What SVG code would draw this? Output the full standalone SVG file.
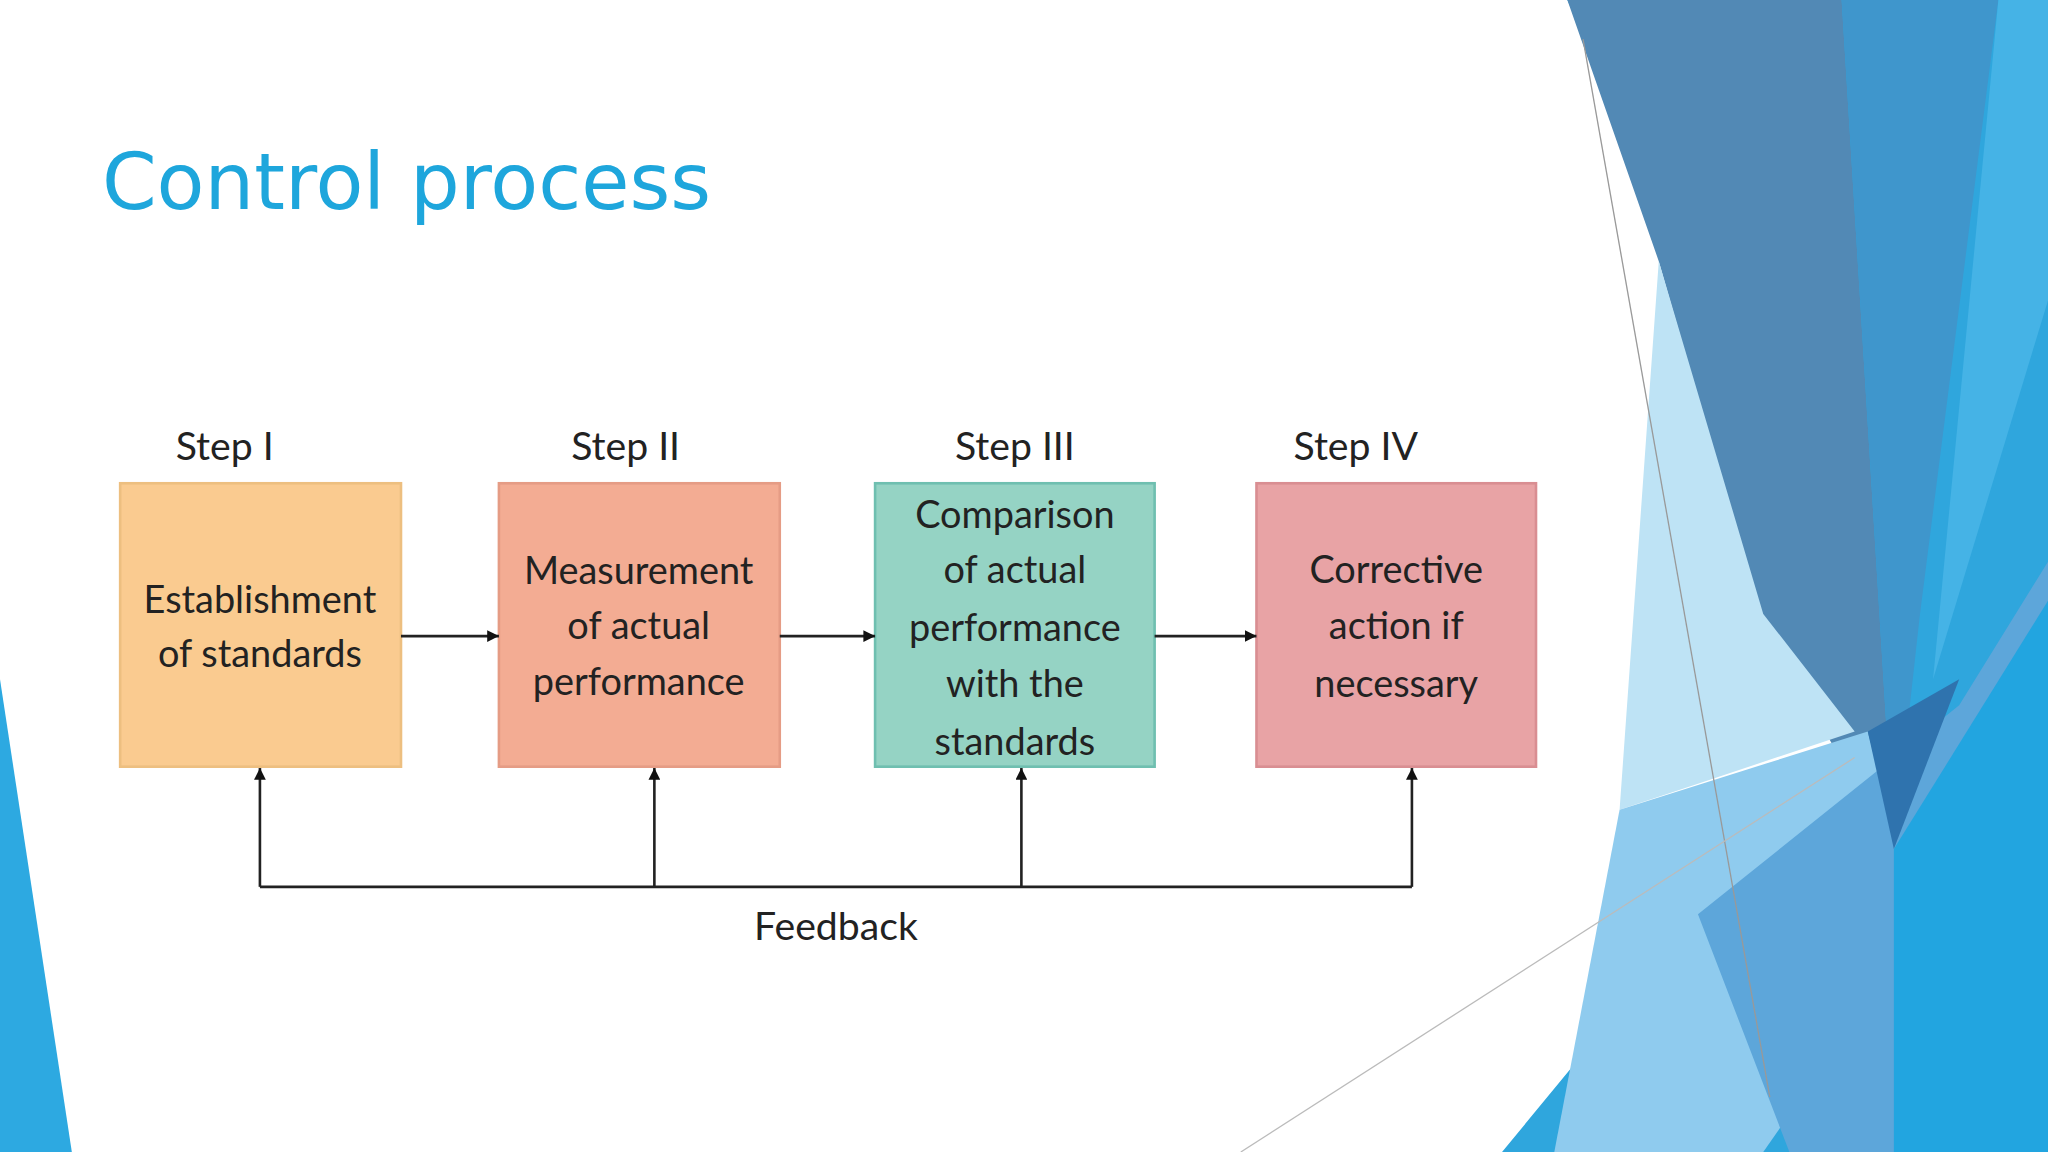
<svg xmlns="http://www.w3.org/2000/svg" width="2048" height="1152" viewBox="0 0 2048 1152">
<defs>
<style>
.box{stroke-width:2}
.t{font-family:Lato,"Open Sans",sans-serif;font-size:29px;fill:#222;text-anchor:middle}
.s{font-family:Lato,"Open Sans",sans-serif;font-size:30px;fill:#222;text-anchor:middle}
.ln{stroke:#222;stroke-width:2;fill:none}
</style>
<marker id="ah" viewBox="0 0 10 10" refX="10" refY="5" markerWidth="9" markerHeight="9" markerUnits="userSpaceOnUse" orient="auto"><path d="M0,0L10,5L0,10z" fill="#111"/></marker>
</defs>
<rect width="2048" height="1152" fill="#fff"/>
<g transform="scale(1.30612)">
<g id="decor">
<polygon points="0,520 55,882 0,882" fill="#2DA9E1"/>
<polygon points="1200,0 1568,0 1568,882 1150,882 1300,700 1430,560 1410,470" fill="#2FA6DD"/>
<polygon points="1200,0 1410,0 1450,650 1350,480 1270,200" fill="#5289B5"/>
<polygon points="1410,0 1530,0 1470,470 1450,650" fill="#3F96CC"/>
<polygon points="1530,0 1568,0 1568,230 1480,520" fill="#45B3E6"/>
<polygon points="1270,200 1350,470 1420,560 1300,600 1240,620" fill="#BEE3F5"/>
<polygon points="1240,620 1430,560 1470,710 1350,882 1190,882" fill="#8FCBEE"/>
<polygon points="1300,700 1500,540 1568,430 1568,882 1370,882" fill="#5DA6DA"/>
<polygon points="1430,560 1500,520 1450,650" fill="#2F73AE"/>
<polygon points="1450,650 1568,460 1568,882 1450,882" fill="#22A5E0"/>
<line x1="1212" y1="30" x2="1355" y2="840" stroke="#999" stroke-width="1"/>
<line x1="950" y1="882" x2="1420" y2="580" stroke="#bbb" stroke-width="1"/>
</g>
<text x="78" y="160" font-family="'DejaVu Sans',sans-serif" font-size="60" fill="#1EA6DC">Control process</text>
<g id="step1"><text class="s" x="172" y="352">Step I</text>
<rect class="box" x="92" y="370" width="215" height="217" fill="#FACB90" stroke="#EDBF80"/>
<text class="t" x="199" y="469">Establishment</text><text class="t" x="199" y="511">of standards</text></g>
<g id="step2"><text class="s" x="479" y="352">Step II</text>
<rect class="box" x="382" y="370" width="215" height="217" fill="#F3AC93" stroke="#E59C85"/>
<text class="t" x="489" y="447">Measurement</text><text class="t" x="489" y="489">of actual</text><text class="t" x="489" y="532">performance</text></g>
<g id="step3"><text class="s" x="777" y="352">Step III</text>
<rect class="box" x="670" y="370" width="214" height="217" fill="#95D3C4" stroke="#6FBFB0"/>
<text class="t" x="777" y="404">Comparison</text><text class="t" x="777" y="446">of actual</text><text class="t" x="777" y="491">performance</text><text class="t" x="777" y="534">with the</text><text class="t" x="777" y="578">standards</text></g>
<g id="step4"><text class="s" x="1038" y="352">Step IV</text>
<rect class="box" x="962" y="370" width="214" height="217" fill="#E8A3A5" stroke="#D98E92"/>
<text class="t" x="1069" y="446">Corrective</text><text class="t" x="1069" y="489">action if</text><text class="t" x="1069" y="534">necessary</text></g>
<g id="connectors">
<line class="ln" x1="307" y1="487" x2="382" y2="487" marker-end="url(#ah)"/>
<line class="ln" x1="597" y1="487" x2="670" y2="487" marker-end="url(#ah)"/>
<line class="ln" x1="884" y1="487" x2="962" y2="487" marker-end="url(#ah)"/>
<polyline class="ln" points="199,679 1081,679"/>
<line class="ln" x1="199" y1="679" x2="199" y2="588" marker-end="url(#ah)"/>
<line class="ln" x1="501" y1="679" x2="501" y2="588" marker-end="url(#ah)"/>
<line class="ln" x1="782" y1="679" x2="782" y2="588" marker-end="url(#ah)"/>
<line class="ln" x1="1081" y1="679" x2="1081" y2="588" marker-end="url(#ah)"/>
<text class="s" x="640" y="720">Feedback</text>
</g>
</g>
</svg>
